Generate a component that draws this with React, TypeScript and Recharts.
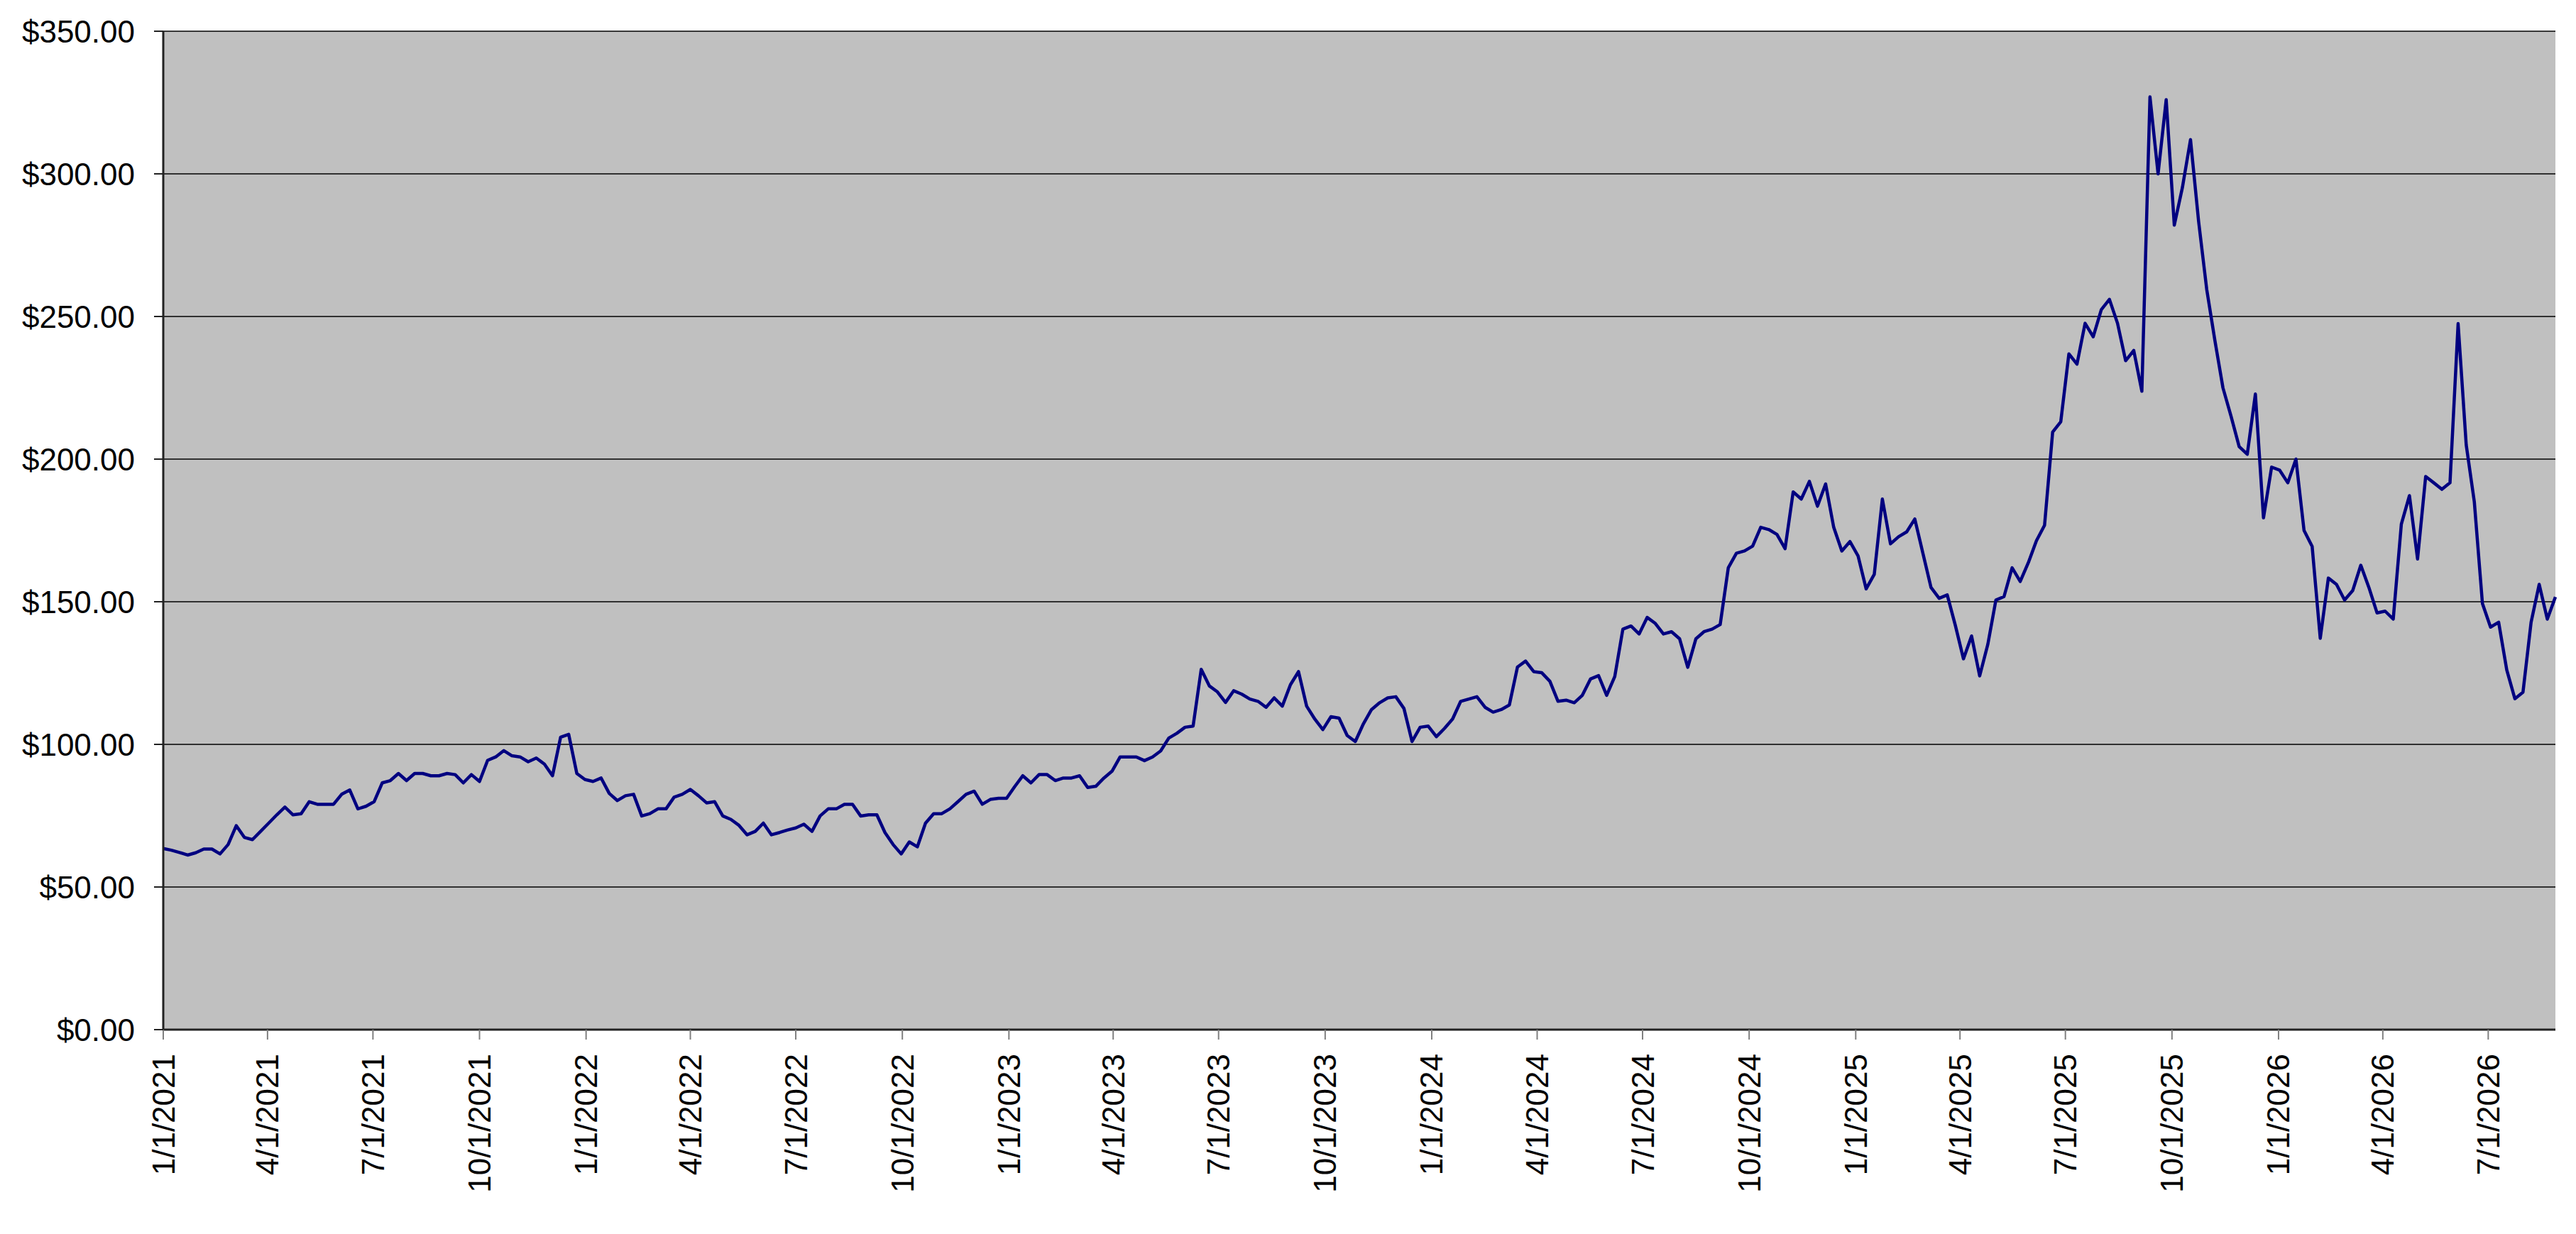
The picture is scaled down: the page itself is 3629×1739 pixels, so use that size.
import React from 'react';
import { LineChart, Line, XAxis, YAxis, CartesianGrid } from 'recharts';

// Weekly closing values starting 1/1/2021
const START_DATE = '2021-01-01';
const prices: number[] = [
  63.5, 62.9, 62.1, 61.2, 62.0, 63.3, 63.3, 61.6, 64.9, 71.5,
  67.4, 66.6, 69.5, 72.4, 75.3, 78.0, 75.3, 75.7, 79.9, 79.0,
  79.0, 79.0, 82.5, 84.0, 77.4, 78.3, 79.9, 86.5, 87.3, 89.8,
  87.3, 89.8, 89.8, 89.0, 89.0, 89.8, 89.4, 86.5, 89.4, 87.0,
  94.4, 95.6, 97.8, 96.0, 95.6, 93.9, 95.2, 93.1, 89.0, 102.5,
  103.5, 89.8, 87.7, 87.0, 88.2, 82.8, 80.3, 82.0, 82.5, 74.9,
  75.7, 77.4, 77.4, 81.5, 82.5, 84.2, 82.0, 79.5, 79.9, 74.9,
  73.7, 71.6, 68.3, 69.5, 72.4, 68.3, 69.1, 70.0, 70.7, 72.0,
  69.5, 74.9, 77.4, 77.4, 79.0, 79.0, 74.9, 75.3, 75.3, 69.1,
  64.9, 61.6, 65.8, 64.1, 72.4, 75.7, 75.7, 77.4, 79.9, 82.5,
  83.6, 79.0, 80.7, 81.1, 81.1, 85.2, 89.0, 86.5, 89.4, 89.4,
  87.3, 88.2, 88.2, 89.0, 84.9, 85.3, 88.2, 90.6, 95.6, 95.6,
  95.6, 94.3, 95.6, 97.7, 102.2, 103.9, 106.0, 106.4, 126.3, 120.5,
  118.4, 114.7, 118.8, 117.6, 115.9, 115.1, 113.0, 116.3, 113.4, 120.9,
  125.5, 113.4, 108.9, 105.2, 109.7, 109.2, 103.1, 101.0, 107.2, 112.2,
  114.6, 116.3, 116.7, 112.6, 101.0, 106.0, 106.4, 102.7, 105.6, 108.9,
  115.1, 115.9, 116.7, 113.0, 111.3, 112.2, 113.8, 127.1, 129.2, 125.5,
  125.1, 122.1, 115.1, 115.5, 114.6, 117.2, 122.9, 124.1, 117.2, 123.8,
  140.4, 141.5, 138.7, 144.5, 142.4, 138.7, 139.5, 137.0, 127.0, 137.0,
  139.5, 140.4, 142.0, 161.9, 167.0, 167.8, 169.5, 176.1, 175.3, 173.6,
  168.6, 188.5, 186.0, 192.2, 183.5, 191.3, 176.1, 167.8, 171.1, 166.1,
  154.5, 159.6, 186.0, 170.3, 172.8, 174.5, 179.0, 167.0, 155.0, 151.2,
  152.4, 141.7, 130.0, 138.0, 124.0, 135.0, 150.6, 151.8, 161.9, 157.1,
  163.7, 171.4, 176.8, 209.5, 213.1, 236.9, 233.3, 247.6, 242.9, 252.4,
  256.0, 247.6, 234.5, 238.1, 223.8, 327.0, 300.0, 326.0, 282.0, 295.2,
  312.0, 283.3, 259.5, 241.7, 225.0, 215.0, 204.4, 201.7, 222.8, 179.4,
  197.2, 196.1, 191.7, 200.0, 175.0, 169.4, 137.2, 158.3, 156.1, 150.6,
  153.9, 162.8, 155.0, 146.1, 146.7, 143.9, 177.2, 187.2, 165.0, 193.9,
  191.7, 189.4, 191.7, 247.5, 205.0, 185.0, 149.4, 141.1, 142.8, 126.1,
  116.0, 118.3, 142.8, 156.1, 143.9, 151.7,
];

const xTickLabels: string[] = [
  '1/1/2021', '4/1/2021', '7/1/2021', '10/1/2021',
  '1/1/2022', '4/1/2022', '7/1/2022', '10/1/2022',
  '1/1/2023', '4/1/2023', '7/1/2023', '10/1/2023',
  '1/1/2024', '4/1/2024', '7/1/2024', '10/1/2024',
  '1/1/2025', '4/1/2025', '7/1/2025', '10/1/2025',
  '1/1/2026', '4/1/2026', '7/1/2026',
];

const yTicks: number[] = [0, 50, 100, 150, 200, 250, 300, 350];

const DAY = 86400000;
const startMs = Date.parse(START_DATE + 'T00:00:00Z');
const data = prices.map((p, i) => ({ t: startMs + i * 7 * DAY, price: p }));

const parseLabel = (s: string) => {
  const [m, d, y] = s.split('/').map(Number);
  return Date.UTC(y, m - 1, d);
};
const xTicks = xTickLabels.map(parseLabel);

const fmtDate = (v: number) => {
  const d = new Date(v);
  return `${d.getUTCMonth() + 1}/${d.getUTCDate()}/${d.getUTCFullYear()}`;
};
const fmtMoney = (v: number) => `$${v.toFixed(2)}`;

const FONT = '"Liberation Sans", Arial, Helvetica, sans-serif';

const XTick = (props: any) => {
  const { x, y, payload } = props;
  return (
    <text
      x={x}
      y={y}
      transform={`rotate(-90 ${x} ${y})`}
      textAnchor="end"
      dominantBaseline="central"
      fontSize={44}
      fontFamily={FONT}
      fill="#000"
    >
      {fmtDate(payload.value)}
    </text>
  );
};

const YTick = (props: any) => {
  const { x, y, payload } = props;
  return (
    <text
      x={x}
      y={y}
      textAnchor="end"
      dominantBaseline="central"
      fontSize={44}
      fontFamily={FONT}
      fill="#000"
    >
      {fmtMoney(payload.value)}
    </text>
  );
};

export default function App() {
  return (
    <div style={{ width: 3613, height: 1723, background: '#fff' }}>
      <LineChart
        width={3613}
        height={1723}
        data={data}
        margin={{ top: 36, right: 21, bottom: 10, left: 0 }}
      >
        <CartesianGrid
          vertical={false}
          fill="#C0C0C0"
          fillOpacity={1}
          stroke="#000"
          strokeWidth={1.5}
        />
        <XAxis
          xAxisId="top"
          orientation="top"
          type="number"
          dataKey="t"
          domain={['dataMin', 'dataMax']}
          height={0}
          tick={false}
          tickLine={false}
          axisLine={{ stroke: '#808080', strokeWidth: 4 }}
        />
        <YAxis
          yAxisId="right"
          orientation="right"
          type="number"
          domain={[0, 350]}
          width={0}
          tick={false}
          tickLine={false}
          axisLine={{ stroke: '#808080', strokeWidth: 4 }}
        />
        <Line
          type="linear"
          dataKey="price"
          stroke="#000080"
          strokeWidth={4.5}
          strokeLinejoin="round"
          dot={false}
          activeDot={false}
          isAnimationActive={false}
        />
        <XAxis
          type="number"
          dataKey="t"
          domain={['dataMin', 'dataMax']}
          ticks={xTicks}
          interval={0}
          height={270}
          tickSize={14}
          tickMargin={20}
          tick={<XTick />}
          tickLine={{ stroke: '#808080', strokeWidth: 2 }}
          axisLine={{ stroke: '#222', strokeWidth: 3 }}
        />
        <YAxis
          type="number"
          domain={[0, 350]}
          ticks={yTicks}
          interval={0}
          width={222}
          tickSize={13}
          tickMargin={27}
          tick={<YTick />}
          tickLine={{ stroke: '#222', strokeWidth: 2 }}
          axisLine={{ stroke: '#222', strokeWidth: 3 }}
        />
      </LineChart>
    </div>
  );
}
